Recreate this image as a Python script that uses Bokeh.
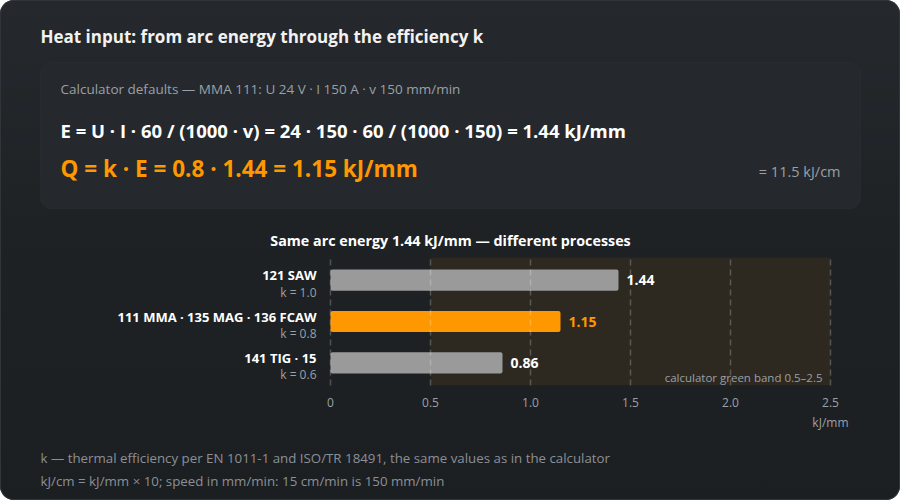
from bokeh.plotting import figure
from bokeh.layouts import column
from bokeh.models import (ColumnDataSource, Label, LabelSet, BoxAnnotation,
                          FixedTicker, Range1d, FactorRange)
from bokeh.embed import file_html
from bokeh.resources import INLINE
from bokeh.core.properties import value

# ---- data ----
processes = ["121 SAW", "111 MMA · 135 MAG · 136 FCAW", "141 TIG · 15"]
k_labels = ["k = 1.0", "k = 0.8", "k = 0.6"]
heat_input = [1.44, 1.15, 0.86]
value_texts = ["1.44", "1.15", "0.86"]
bar_colors = ["#9a9a9a", "#ff9800", "#9a9a9a"]
value_colors = ["#ffffff", "#ff9800", "#ffffff"]
x_ticks = [0, 0.5, 1.0, 1.5, 2.0, 2.5]
x_tick_labels = ["0", "0.5", "1.0", "1.5", "2.0", "2.5"]
band = [0.5, 2.5]

title = "Heat input: from arc energy through the efficiency k"
defaults_line = "Calculator defaults — MMA 111: U 24 V · I 150 A · v 150 mm/min"
e_line = "E = U · I · 60 / (1000 · v) = 24 · 150 · 60 / (1000 · 150) = 1.44 kJ/mm"
q_line = "Q = k · E = 0.8 · 1.44 = 1.15 kJ/mm"
kjcm_line = "= 11.5 kJ/cm"
chart_title = "Same arc energy 1.44 kJ/mm — different processes"
band_note = "calculator green band 0.5–2.5"
x_unit = "kJ/mm"
foot1 = "k — thermal efficiency per EN 1011-1 and ISO/TR 18491, the same values as in the calculator"
foot2 = "kJ/cm = kJ/mm × 10; speed in mm/min: 15 cm/min is 150 mm/min"

FONT = "Open Sans"
W = 900
H_HEAD = 257          # header panel (window y 0..257)
CH_TOP, CH_FB, CH_BOT = 257, 385, 414   # chart panel
H_CHART = CH_BOT - CH_TOP
H_FOOT = 500 - CH_BOT
X0_PX, PX_PER_UNIT = 330, 200           # where x=0 sits, scale of the bar axis

GREY = "#9aa0a6"


def blank_panel(h):
    f = figure(width=W, height=h, output_backend="svg", toolbar_location=None,
               x_range=Range1d(0, W), y_range=Range1d(h, 0),
               min_border=0)
    f.border_fill_alpha = 0
    f.background_fill_alpha = 0
    f.outline_line_color = None
    f.axis.visible = False
    f.grid.visible = False
    return f


def lab(f, text, X, Y, size, color, bold=False, align="left"):
    f.add_layout(Label(x=X, y=Y, text=text, text_align=align, text_baseline="middle",
                       text_color=color, text_font=FONT,
                       text_font_style="bold" if bold else "normal",
                       text_font_size=f"{size}px"))


# ---------- header ----------
head = blank_panel(H_HEAD)
head.add_layout(BoxAnnotation(left=40, right=860, top=62, bottom=208,
                              fill_color="#25292d", fill_alpha=1.0,
                              line_color="#33383d", line_width=1, border_radius=10))
lab(head, title, 40, 36, 17, "#f2f2f2", bold=True)
lab(head, defaults_line, 60, 88, 13.5, GREY)
lab(head, e_line, 60, 130, 18.5, "#ffffff", bold=True)
lab(head, q_line, 60, 168, 22.5, "#ff9800", bold=True)
lab(head, kjcm_line, 840, 171, 14.5, GREY, align="right")
lab(head, chart_title, 450, 240, 14.3, "#ffffff", bold=True, align="center")

# ---------- chart ----------
cats = list(reversed(processes))
src = ColumnDataSource(dict(
    proc=processes, k=k_labels, val=heat_input, vt=value_texts,
    bc=bar_colors, vc=value_colors,
))
x_lo = -X0_PX / PX_PER_UNIT
x_hi = (W - X0_PX) / PX_PER_UNIT
p = figure(width=W, height=H_CHART, output_backend="svg", toolbar_location=None,
           x_range=Range1d(x_lo, x_hi),
           y_range=FactorRange(*cats, range_padding=1 / 21, range_padding_units="absolute"),
           min_border_left=0, min_border_right=0, min_border_top=0,
           min_border_bottom=CH_BOT - CH_FB)
p.border_fill_alpha = 0
p.background_fill_alpha = 0
p.outline_line_color = None

p.add_layout(BoxAnnotation(left=band[0], right=band[1], fill_color="#2d2920",
                           fill_alpha=1.0, line_color=None, level="image"))

p.hbar(y="proc", right="val", left=0, height=0.51, source=src,
       fill_color="bc", line_color=None, border_radius=2)

p.ygrid.visible = False
p.xgrid.ticker = FixedTicker(ticks=x_ticks)
p.xgrid.grid_line_color = "#ffffff"
p.xgrid.grid_line_alpha = 0.22
p.xgrid.grid_line_dash = "6 4"
p.xgrid.grid_line_width = 1.5
p.xgrid.level = "overlay"

p.yaxis.visible = False
xa = p.xaxis[0]
xa.ticker = FixedTicker(ticks=x_ticks)
xa.major_label_overrides = {t: s for t, s in zip(x_ticks, x_tick_labels)}
xa.axis_line_color = None
xa.major_tick_line_color = None
xa.major_tick_out = 0
xa.major_tick_in = 0
xa.minor_tick_line_color = None
xa.minor_tick_out = 0
xa.major_label_text_color = GREY
xa.major_label_text_font = FONT
xa.major_label_text_font_size = "12px"
xa.major_label_standoff = 12

p.add_layout(LabelSet(x="val", y="proc", text="vt", source=src, x_offset=8,
                      text_color="vc", text_font=value(FONT), text_font_style="bold",
                      text_font_size="14px", text_baseline="middle"))
p.add_layout(LabelSet(x=316, x_units="screen", y="proc", text="proc", source=src,
                      y_offset=5, text_align="right", text_baseline="middle",
                      text_color="#ffffff", text_font=value(FONT),
                      text_font_style="bold", text_font_size="13px"))
p.add_layout(LabelSet(x=316, x_units="screen", y="proc", text="k", source=src,
                      y_offset=-12, text_align="right", text_baseline="middle",
                      text_color=GREY, text_font=value(FONT),
                      text_font_size="12px"))
p.add_layout(Label(x=822, y=8, x_units="screen", y_units="screen", text=band_note,
                   text_align="right", text_baseline="middle", text_color=GREY,
                   text_font=FONT, text_font_size="11.5px"))

# ---------- footer ----------
foot = blank_panel(H_FOOT)
lab(foot, x_unit, 848, 422 - CH_BOT, 12, GREY, align="right")
lab(foot, foot1, 40, 457 - CH_BOT, 13.3, "#8b9096")
lab(foot, foot2, 40, 480 - CH_BOT, 13.3, "#8b9096")

page = column(head, p, foot, spacing=0)
page.styles = {
    "background": "linear-gradient(180deg, #25292d 0%, #1f2225 45%, #1c1f22 100%)",
    "border-radius": "14px",
    "box-shadow": "inset 0 0 0 1px #30353a",
}

open("out.html", "w").write(file_html(page, INLINE))
